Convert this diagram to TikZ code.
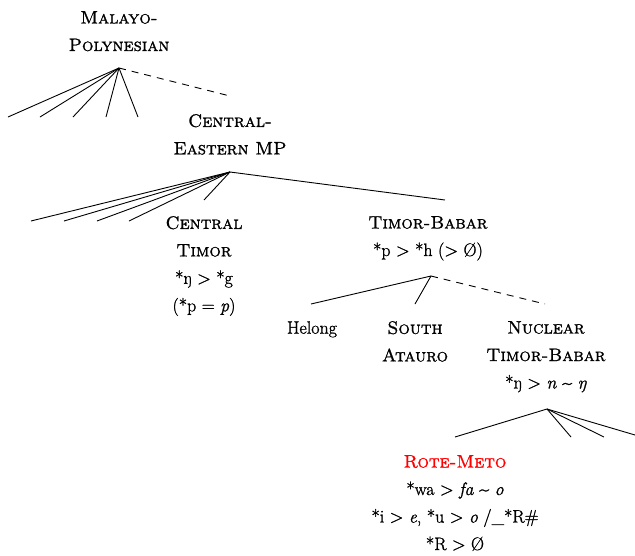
\documentclass[tikz,border=0pt]{standalone}
\usepackage{fontspec}
\setmainfont{Latin Modern Roman}[FakeBold=1.2,
  SmallCapsFont={Latin Modern Roman Caps},SmallCapsFeatures={FakeBold=1.2}]
\begin{document}
\begin{tikzpicture}[x=1pt,y=-1pt,
  lbl/.style={anchor=north,inner sep=0pt,align=center,font=\fontsize{18}{27.5}\selectfont},
  br/.style={line width=0.9pt},
  dbr/.style={br,dash pattern=on 7pt off 6pt}]
\useasboundingbox (0,0) rectangle (635,555);
% labels
\node[lbl] (mp) at (119,11) {\textsc{Malayo-}\\\textsc{Polynesian}};
\node[lbl] (cemp) at (230,114) {\textsc{Central-}\\\textsc{Eastern MP}};
\node[lbl] (ct) at (204,216) {\textsc{Central}\\\textsc{Timor}\\*ŋ > *g\\(*p = \textit{p})};
\node[lbl] (tb) at (428,216) {\textsc{Timor-Babar}\\*p > *h (> Ø)};
\node[lbl] (hel) at (312,321) {Helong};
\node[lbl] (sa) at (415,321) {\textsc{South}\\\textsc{Atauro}};
\node[lbl] (ntb) at (546,321) {\textsc{Nuclear}\\\textsc{Timor-Babar}\\*ŋ > \textit{n} \textasciitilde{} \textit{ŋ}};
\node[lbl] (rm) at (455,455) {{\color{red}\textsc{Rote-Meto}}\\*wa > \textit{fa} \textasciitilde{} \textit{o}\\*i > \textit{e}, *u > \textit{o} /\_*R\#\\*R > Ø};
% branch points
\coordinate (mpA) at (119,68);
\coordinate (mp1) at (8,117);
\coordinate (mp2) at (40,117);
\coordinate (mp3) at (73,117);
\coordinate (mp4) at (106,117);
\coordinate (mp5) at (138,117);
\coordinate (mpD) at (230,96);
\coordinate (ceA) at (230,172);
\coordinate (ce1) at (31,221);
\coordinate (ce2) at (64,221);
\coordinate (ce3) at (97,221);
\coordinate (ce4) at (129,221);
\coordinate (ce5) at (204,200);
\coordinate (ce6) at (445,200);
\coordinate (tbA) at (431,276);
\coordinate (tb1) at (311,304);
\coordinate (tb2) at (415,304);
\coordinate (tbD) at (545,304);
\coordinate (nA) at (547,409);
\coordinate (n1) at (455,437);
\coordinate (n2) at (571,437);
\coordinate (n3) at (604,437);
\coordinate (n4) at (635,435);
% connectors
\foreach \e in {mp1,mp2,mp3,mp4,mp5} \draw[br] (mpA) -- (\e);
\draw[dbr] (mpA) -- (mpD);
\foreach \e in {ce1,ce2,ce3,ce4,ce5,ce6} \draw[br] (ceA) -- (\e);
\draw[br] (tbA) -- (tb1);
\draw[br] (tbA) -- (tb2);
\draw[dbr] (tbA) -- (tbD);
\foreach \e in {n1,n2,n3,n4} \draw[br] (nA) -- (\e);
\end{tikzpicture}
\end{document}
